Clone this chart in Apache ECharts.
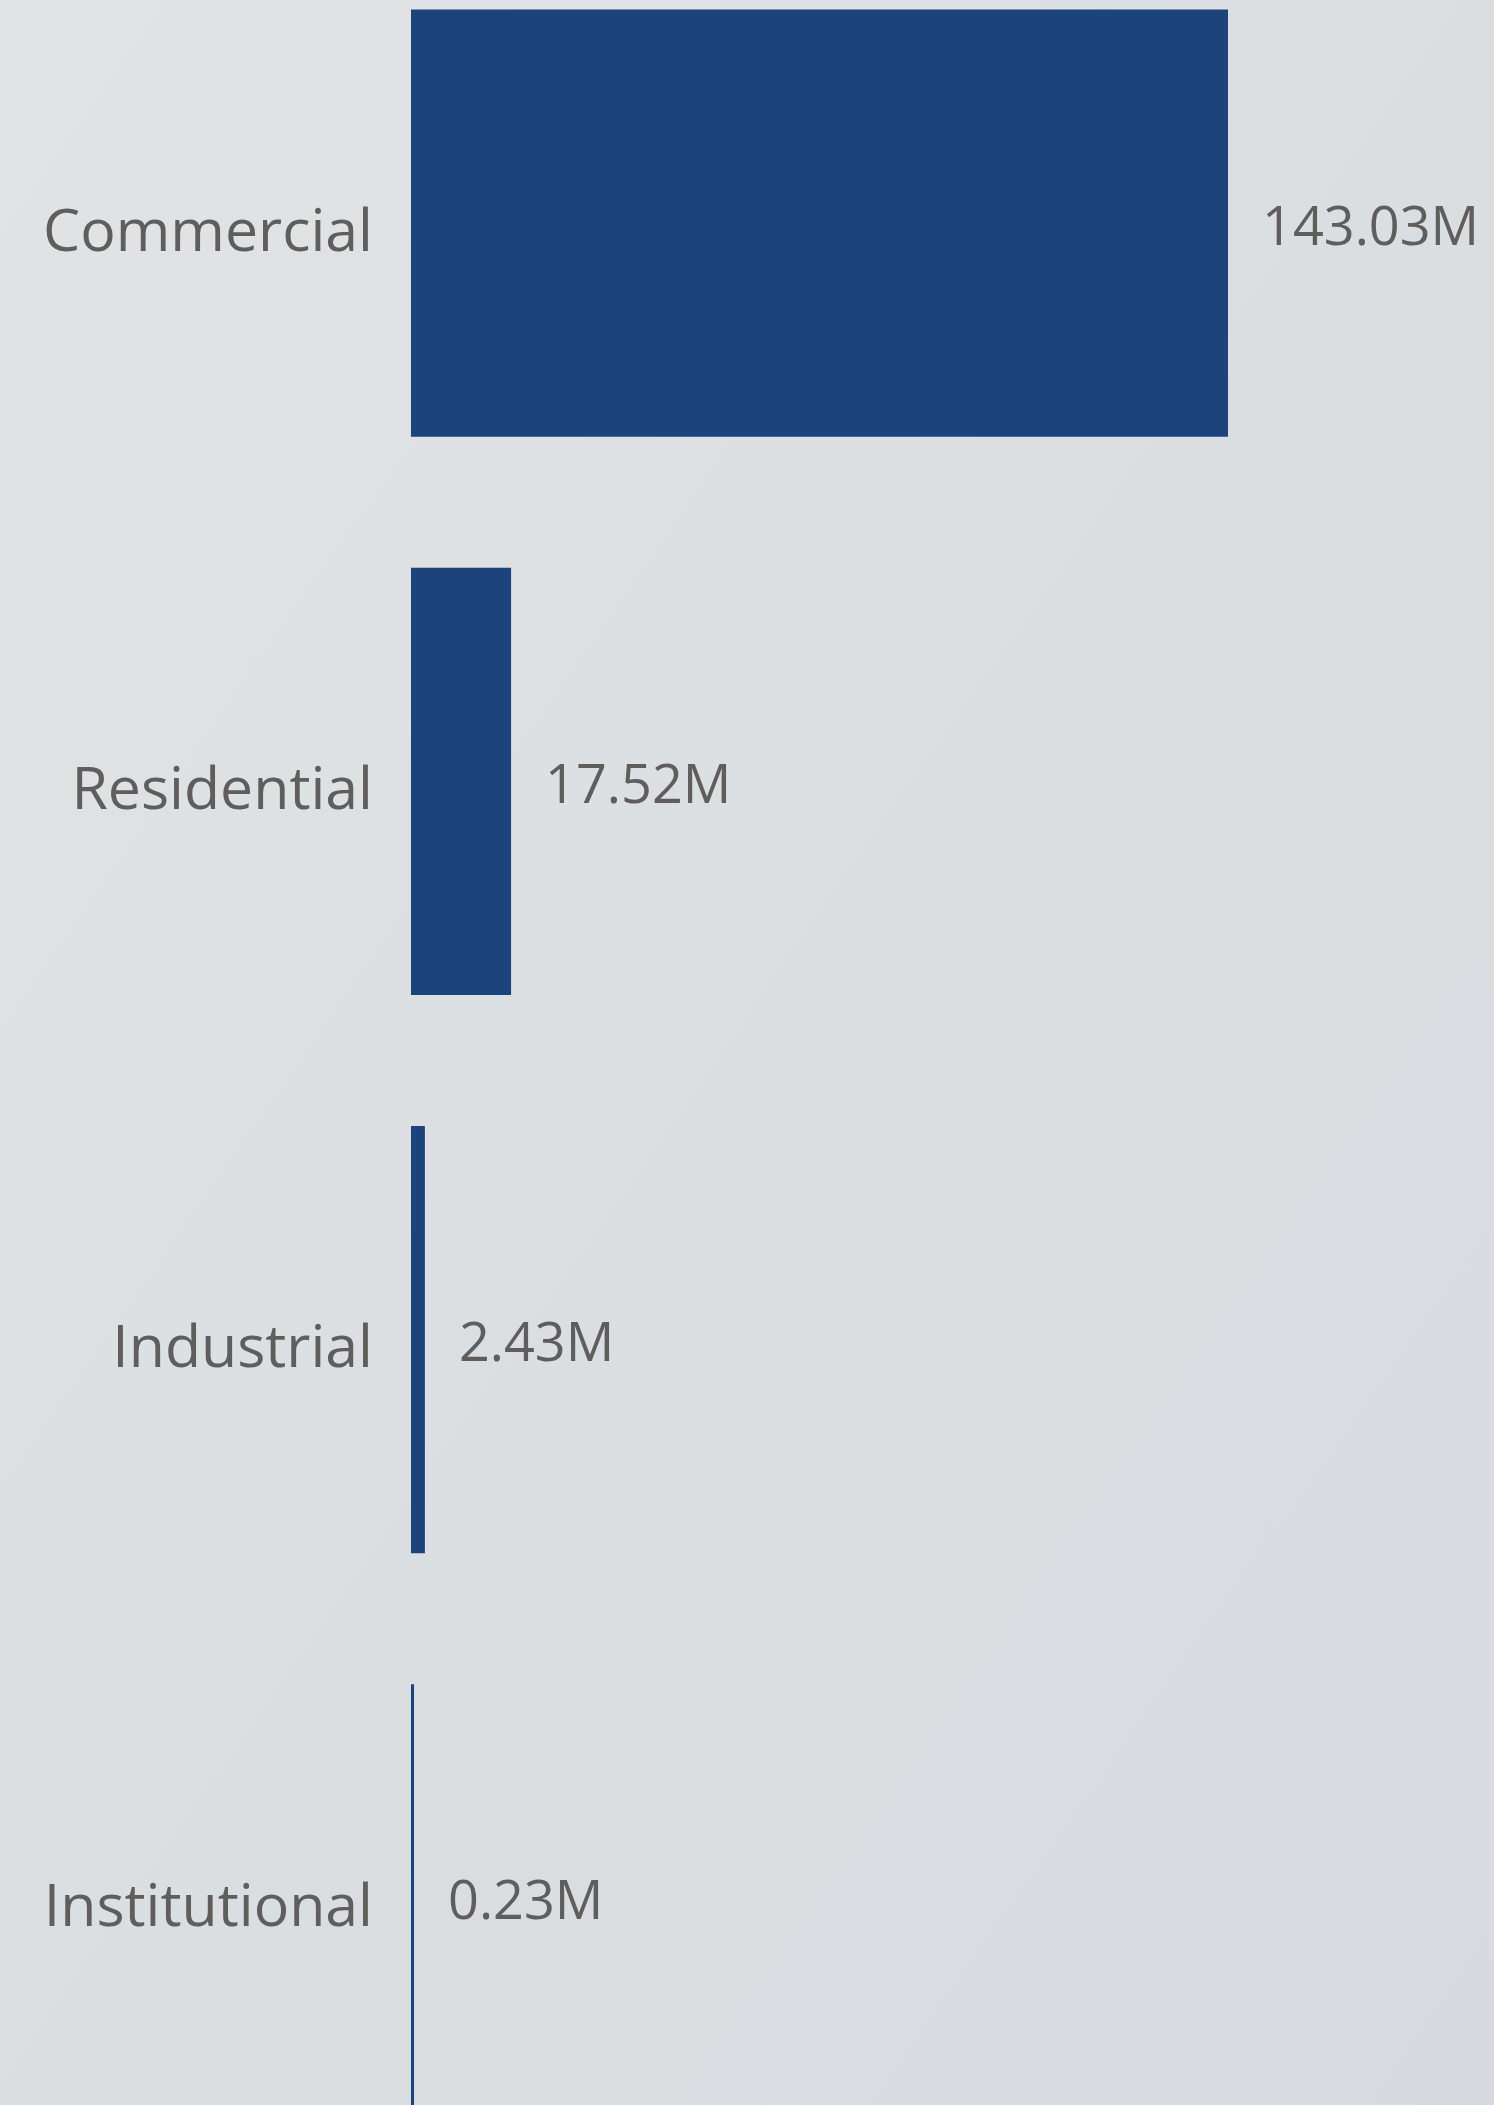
<!DOCTYPE html>
<html>
<head>
<meta charset="utf-8">
<script src="https://cdn.jsdelivr.net/npm/echarts@6/dist/echarts.min.js"></script>
<style>
    html, body {
        margin: 0;
        padding: 0;
        width: 1494px;
        height: 2105px;
        overflow: hidden;
        position: relative;
        background: linear-gradient(125deg, #e1e3e4 0%, #dee1e2 30%, #dadde0 60%, #d7dbe0 100%);
    }
    /* plot area runs past the top and bottom edges, like the reference crop */
    #chart {
        position: absolute;
        left: 0;
        top: -56px;
        width: 1494px;
        height: 2233px;
    }
</style>
</head>
<body>
<div id="chart"></div>
<script>
// Data
const categories = ['Commercial', 'Residential', 'Industrial', 'Institutional'];
const valuesM = [143.03, 17.52, 2.43, 0.23];

const textColor = '#605e5c';
const barColor = '#1c437c';
const fontFamily = '"Open Sans", "Noto Sans", sans-serif';

const chart = echarts.init(document.getElementById('chart'), null, { renderer: 'canvas' });

const option = {
    backgroundColor: 'transparent',
    animation: false,
    grid: {
        left: 411,
        width: 817,
        top: 0,
        bottom: 0,
        containLabel: false
    },
    xAxis: {
        type: 'value',
        min: 0,
        max: 143.03,
        show: false
    },
    yAxis: {
        type: 'category',
        data: categories,
        inverse: true,
        axisLine: { show: false },
        axisTick: { show: false },
        splitLine: { show: false },
        axisLabel: {
            margin: 38,
            // nudge the names a bit below the bar centre, as in the reference
            formatter: (v) => '{n|' + v + '}',
            rich: {
                n: {
                    color: textColor,
                    fontFamily: fontFamily,
                    fontSize: 59,
                    padding: [22, 0, 0, 0]
                }
            }
        }
    },
    series: [{
        type: 'bar',
        data: valuesM,
        barCategoryGap: '23.5%',
        barMinHeight: 3,
        itemStyle: { color: barColor },
        label: {
            show: true,
            position: 'right',
            distance: 34,
            offset: [0, 6],
            color: textColor,
            fontFamily: fontFamily,
            fontSize: 54,
            formatter: (p) => p.value.toFixed(2) + 'M'
        }
    }]
};

chart.setOption(option);
</script>
</body>
</html>
